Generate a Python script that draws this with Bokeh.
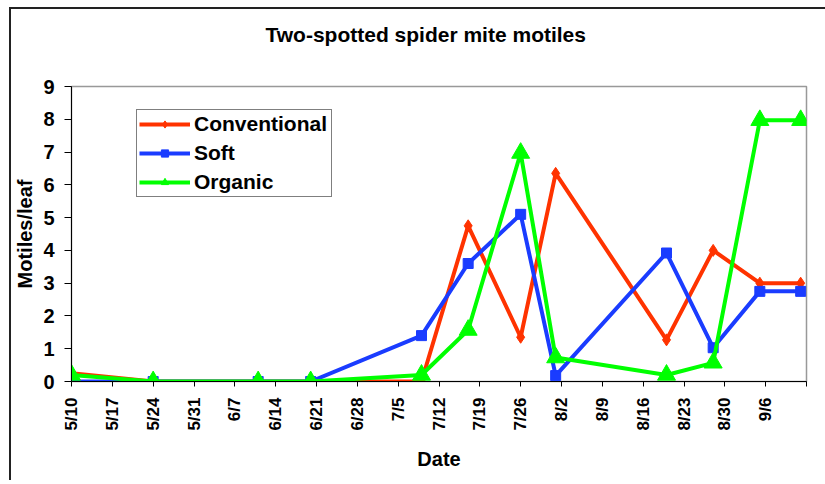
import pandas as pd
from bokeh.plotting import figure
from bokeh.models import FixedTicker, Legend, LegendItem, ColumnDataSource
from bokeh.embed import file_html
from bokeh.resources import INLINE

# ---- data ----
dates = ["2005-05-10", "2005-05-24", "2005-06-11", "2005-06-20", "2005-07-09", "2005-07-17",
         "2005-07-26", "2005-08-01", "2005-08-20", "2005-08-28", "2005-09-05", "2005-09-12"]
conventional = [0.25, 0.0, 0.0, 0.0, 0.0, 4.75, 1.35, 6.35, 1.27, 4.0, 3.0, 3.0]
soft = [0.0, 0.0, 0.0, 0.0, 1.4, 3.6, 5.1, 0.18, 3.92, 1.03, 2.75, 2.75]
organic = [0.2, 0.0, 0.0, 0.0, 0.2, 1.57, 6.97, 0.73, 0.2, 0.57, 7.97, 7.97]

tick_dates = ["2005-05-10", "2005-05-17", "2005-05-24", "2005-05-31", "2005-06-07", "2005-06-14",
              "2005-06-21", "2005-06-28", "2005-07-05", "2005-07-12", "2005-07-19", "2005-07-26",
              "2005-08-02", "2005-08-09", "2005-08-16", "2005-08-23", "2005-08-30", "2005-09-06",
              "2005-09-13"]
tick_labels = ["5/10", "5/17", "5/24", "5/31", "6/7", "6/14", "6/21", "6/28", "7/5", "7/12",
               "7/19", "7/26", "8/2", "8/9", "8/16", "8/23", "8/30", "9/6", ""]
y_ticks = [0, 1, 2, 3, 4, 5, 6, 7, 8, 9]

title_text = "Two-spotted spider mite motiles"
x_title = "Date"
y_title = "Motiles/leaf"

RED = "#FF3300"
BLUE = "#1a3cff"
GREEN = "#00FF00"
FONT = "Liberation Sans"

x = pd.to_datetime(dates)
tick_ms = [float(pd.Timestamp(d).value // 10**6) for d in tick_dates]

frame_css = {
    "background-color": "white",
    "background-image": "linear-gradient(#222222, #222222), linear-gradient(#222222, #222222)",
    "background-size": "100% 2px, 2px 100%",
    "background-position": "9px 7px, 9px 7px",
    "background-repeat": "no-repeat",
}

p = figure(width=825, height=480, x_axis_type="datetime", output_backend="svg",
           toolbar_location=None, x_range=(tick_ms[0], tick_ms[-1]), y_range=(0, 9),
           min_border_left=71, min_border_right=19, min_border_top=86, min_border_bottom=99,
           styles=frame_css)

p.border_fill_color = None
p.background_fill_color = "white"
p.xgrid.visible = False
p.ygrid.visible = False
p.outline_line_color = "#999999"
p.outline_line_width = 1.5

# title: an empty second line lifts it well above the frame, as in the original
p.title.text = title_text + "\n"
p.title.align = "left"
p.title.offset = 194
p.title.standoff = 36
p.title.text_font = FONT
p.title.text_font_style = "bold"
p.title.text_font_size = "21px"
p.title.text_color = "black"

src = ColumnDataSource(dict(x=x, c=conventional, s=soft, o=organic))

l1 = p.line("x", "c", source=src, line_color=RED, line_width=4)
m1 = p.scatter("x", "c", source=src, marker="diamond", size=12, color=RED)
l2 = p.line("x", "s", source=src, line_color=BLUE, line_width=4)
m2 = p.scatter("x", "s", source=src, marker="square", size=10, color=BLUE)
l3 = p.line("x", "o", source=src, line_color=GREEN, line_width=4)
m3 = p.scatter("x", "o", source=src, marker="triangle", size=18, color=GREEN)

# axes
xa = p.xaxis[0]
xa.ticker = FixedTicker(ticks=tick_ms)
xa.major_label_overrides = {t: lab for t, lab in zip(tick_ms, tick_labels)}
xa.major_label_orientation = 3.14159265 / 2
xa.minor_tick_line_color = None
xa.major_tick_in = 0
xa.major_tick_out = 5
xa.major_label_standoff = 11
xa.major_label_text_font = FONT
xa.major_label_text_font_style = "bold"
xa.major_label_text_font_size = "17px"
xa.major_label_text_color = "black"
xa.axis_line_color = "black"
xa.major_tick_line_color = "black"
xa.axis_label = x_title
xa.axis_label_text_font = FONT
xa.axis_label_text_font_style = "bold"
xa.axis_label_text_font_size = "20px"
xa.axis_label_text_color = "black"
xa.axis_label_standoff = 14

ya = p.yaxis[0]
ya.ticker = FixedTicker(ticks=y_ticks)
ya.minor_tick_line_color = None
ya.major_tick_in = 0
ya.major_tick_out = 7
ya.major_label_standoff = 10
ya.major_label_text_font = FONT
ya.major_label_text_font_style = "bold"
ya.major_label_text_font_size = "20px"
ya.major_label_text_color = "black"
ya.axis_line_color = "black"
ya.major_tick_line_color = "black"
ya.axis_label = y_title
ya.axis_label_text_font = FONT
ya.axis_label_text_font_style = "bold"
ya.axis_label_text_font_size = "20px"
ya.axis_label_text_color = "black"
ya.axis_label_standoff = 4

legend = Legend(items=[LegendItem(label="Conventional", renderers=[l1, m1]),
                       LegendItem(label="Soft", renderers=[l2, m2]),
                       LegendItem(label="Organic", renderers=[l3, m3])],
                location=(65, 184), margin=0, padding=2, spacing=5,
                glyph_width=51, glyph_height=18, label_height=18, label_standoff=4,
                label_width=135,
                label_text_font=FONT, label_text_font_style="bold",
                label_text_font_size="21px", label_text_color="black",
                border_line_color="black", border_line_width=1.2,
                background_fill_color="white", background_fill_alpha=1)
p.add_layout(legend)

open("out.html", "w").write(file_html(p, INLINE))
